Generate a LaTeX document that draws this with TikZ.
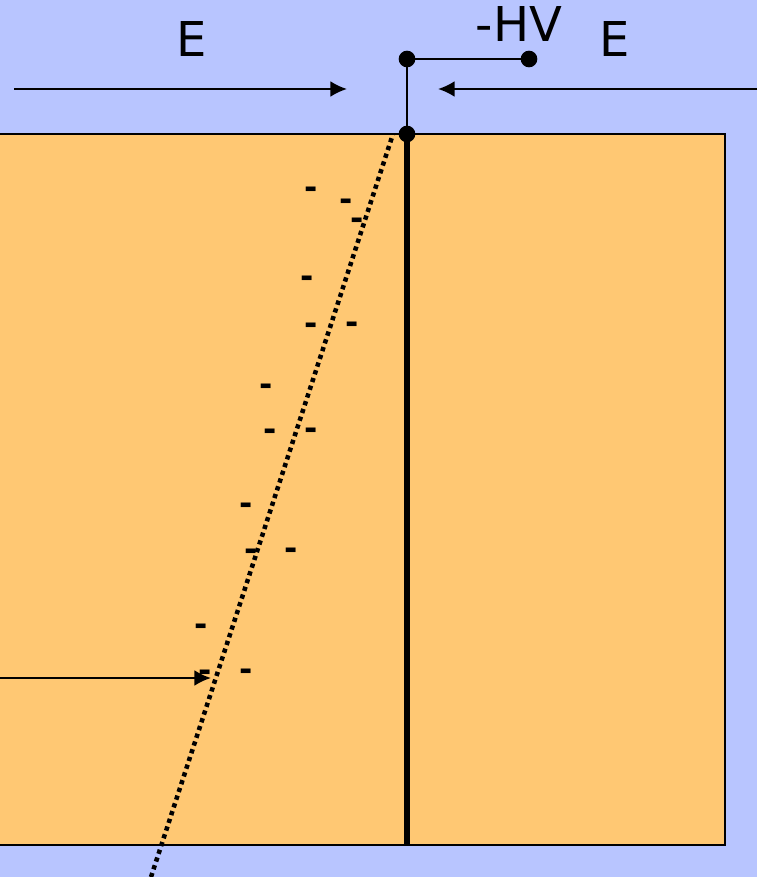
\documentclass[tikz,border=0pt]{standalone}
\usepackage{fontspec}
\setmainfont{DejaVu Sans}
\usetikzlibrary{arrows.meta}
\definecolor{bgblue}{RGB}{184,197,255}
\definecolor{slab}{RGB}{255,200,115}
\tikzset{
  x=0.75pt,y=-0.75pt,
  lbl/.style={inner sep=0pt,font=\fontsize{36pt}{36pt}\selectfont,text=black},
  chg/.style={inner sep=0pt,font=\fontsize{24pt}{24pt}\selectfont\bfseries},
  dot/.style={circle,fill=black,inner sep=0pt,outer sep=0pt,minimum size=12.5pt},
  wire/.style={line width=2.1pt,black},
  field/.style={line width=1.8pt,-{Latex[length=12.5pt,width=12pt]}},
}
\begin{document}
\begin{tikzpicture}
\useasboundingbox (0,0) rectangle (757,877);
\fill[bgblue] (0,0) rectangle (757,877);
\draw[line width=1.1pt,fill=slab] (-5,134) rectangle (725,845);
\coordinate (trackbottom) at (151,877);
\coordinate (tracktop) at (393,134);
\draw[line width=3.4pt,dash pattern=on 3.2pt off 2.9pt] (trackbottom) -- (tracktop);
\node[dot] (t) at (407,59) {};
\node[dot] (hv) at (529,59) {};
\node[dot] (c) at (407,134) {};
\coordinate (wb) at (407,845);
\draw[wire] (hv) -- (t);
\draw[wire] (t) -- (c);
\draw[line width=5pt] (c) -- (wb);
\coordinate (e1a) at (14,89); \coordinate (e1b) at (347,89);
\coordinate (e2a) at (757,89); \coordinate (e2b) at (438,89);
\coordinate (pa) at (-5,678); \coordinate (pb) at (211,678);
\draw[field] (e1a) -- (e1b);
\draw[field] (e2a) -- (e2b);
\draw[field] (pa) -- (pb);
\node[lbl] (E1) at (192,39) {E};
\node[lbl] (E2) at (615,39) {E};
\node[lbl] (HV) at (519,24) {-HV};
\foreach \n/\x/\y in {a/311.5/192.5,b/346.5/204.5,c/357.5/223.5,d/307.5/281.5,e/311.5/328.5,f/352.5/327.5,g/266.5/389.5,h/270.5/434.5,i/311.5/433.5,j/246.5/508.5,k/251.5/554.5,l/291.5/553.5,m/201.5/629.5,n/205.5/675.5,o/246.5/674.5}
  \node[chg] (q\n) at (\x,\y) {-};
\end{tikzpicture}
\end{document}
